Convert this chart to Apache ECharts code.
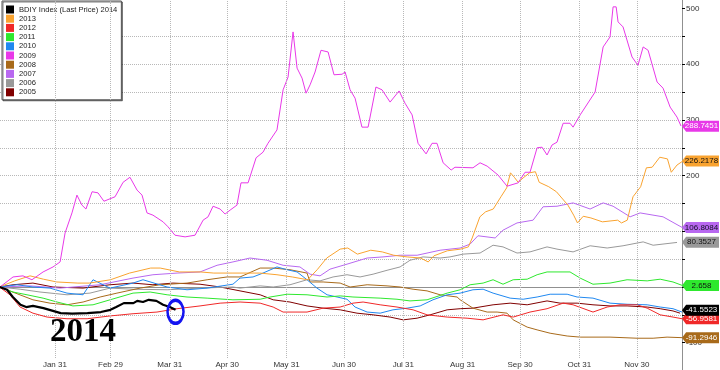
<!DOCTYPE html>
<html><head><meta charset="utf-8">
<script src="https://cdn.jsdelivr.net/npm/echarts@6/dist/echarts.min.js"></script>
<style>html,body{margin:0;padding:0;background:#fff}#c{width:720px;height:370px}</style>
</head><body><div id="c"></div>
<script>
// ---- axis ticks ----
const tickDays = [31, 60, 91, 121, 152, 182, 213, 244, 274, 305, 335];
const tickLabels = ['Jan 31', 'Feb 29', 'Mar 31', 'Apr 30', 'May 31', 'Jun 30', 'Jul 31', 'Aug 31', 'Sep 30', 'Oct 31', 'Nov 30'];
const yTicks = [-100, -50, 0, 50, 100, 150, 200, 250, 300, 350, 400, 450, 500];
const yLabels = [-100, 0, 100, 200, 300, 400, 500];

// ---- series names (legend order) ----
const seriesNames = ['BDIY Index (Last Price) 2014', '2013', '2012', '2011', '2010', '2009', '2008', '2007', '2006', '2005'];
const seriesColors = ['#000000', '#f9a330', '#f02828', '#2ee82e', '#2088f0', '#e838e8', '#a86a1a', '#b868f0', '#999999', '#800000'];

// ---- data: day of year, % change ----
const d2014 = [2, 6, 9, 13, 16, 19.5, 25, 34, 40, 48, 55, 60, 63, 67, 72, 74, 77, 80, 84, 87.5, 91, 94];
const v2014 = [0, -5, -18, -32, -36, -34, -38, -47, -48, -47, -45, -41, -36, -29, -29, -25, -27, -23, -25, -32, -36, -41];

const d2013 = [2, 10, 18, 25, 32, 43, 49, 60, 70, 81, 86, 96, 107, 114, 124, 131, 138, 147, 155, 163, 168, 173, 180, 184, 189, 196, 202, 208, 215, 222, 226, 229, 236, 243, 247, 249, 253, 256, 260, 264, 267, 269, 271, 273, 276, 279, 282, 284, 289, 293, 299, 302, 304, 307, 311, 317, 325, 327, 330, 333, 337, 340, 343, 347, 351, 353, 356, 359];
const v2013 = [0, 11, 20, 14, 9, 7, 7, 13, 25, 34, 34, 27, 27, 25, 25, 25, 25, 22, 18, 13, 31, 52, 68, 70, 59, 66, 63, 57, 54, 52, 45, 56, 65, 68, 72, 88, 126, 135, 140, 162, 178, 205, 197, 188, 197, 205, 207, 188, 180, 171, 147, 129, 115, 127, 124, 117, 120, 115, 120, 162, 180, 214, 215, 233, 230, 206, 219, 226];

const d2012 = [2, 7.5, 12.8, 19.5, 26.9, 37.3, 47.8, 59.8, 71.8, 84.3, 94.8, 106.8, 117.3, 127.7, 138.2, 145, 150.2, 162.7, 171.1, 180, 186.7, 192, 200.9, 209.7, 218.1, 225.4, 235.9, 246.3, 254.7, 265.1, 270.4, 279.2, 288.1, 296.5, 301.7, 312.1, 319.5, 326.2, 335.1, 340.4, 347.2, 353.9, 358.6];
const v2012 = [0, -14, -36, -47, -54, -57, -57, -52, -48, -45, -39, -34, -29, -27, -29, -36, -45, -45, -38, -36, -29, -27, -32, -36, -41, -50, -54, -56, -59, -50, -54, -45, -39, -29, -32, -45, -36, -32, -32, -38, -50, -54, -57];

const d2011 = [2, 9.1, 16.4, 24.8, 32.1, 40.4, 50.9, 59.8, 71.8, 80.7, 89.6, 100, 110.5, 124, 138.2, 143.4, 152.3, 162.7, 173.2, 180, 186.7, 200.9, 209.7, 216.5, 225.4, 235.9, 242.7, 247.9, 254.7, 259.9, 265.1, 270.4, 277.7, 282.9, 288.1, 300.1, 305.4, 312.1, 321, 329.9, 340.4, 347.2, 353.9, 358.6];
const v2011 = [0, -9, -14, -20, -27, -34, -32, -23, -11, -9, -14, -18, -20, -23, -22, -18, -13, -14, -18, -16, -18, -20, -22, -25, -23, -11, -5, 4, 7, 13, 5, 13, 14, 22, 27, 27, 16, 5, 7, 13, 11, 14, 9, 3];

const d2010 = [2, 11.2, 19.5, 28.4, 37.3, 45.7, 50.9, 59.8, 71.8, 77, 89.6, 100, 110.5, 124, 127.7, 134.5, 139.7, 147, 152.3, 157.5, 162.7, 167.9, 173.2, 178.4, 183.6, 187.8, 194.1, 200.9, 207.6, 215, 221.8, 228.5, 235.9, 242.7, 249.4, 254.7, 259.9, 268.8, 275.6, 282.9, 289.7, 298.6, 303.8, 312.1, 321, 329.9, 340.4, 347.2, 353.9, 358.6];
const v2010 = [0, 4, 0, -2, -11, -14, 13, -2, 7, 13, 0, -5, -2, 5, 16, 18, 25, 36, 31, 27, 13, -2, -14, -18, -22, -36, -45, -47, -41, -38, -34, -23, -14, -11, -5, -4, -11, -20, -22, -18, -13, -13, -18, -20, -29, -31, -32, -36, -39, -45];

const d2009 = [2.3, 9.1, 14.3, 19, 24.8, 30, 33.7, 36.3, 39.9, 42.5, 45.1, 47.2, 50.4, 53.5, 56.6, 62.4, 66.6, 70.2, 73.9, 76.5, 79.1, 82.2, 87.5, 90.1, 93.7, 99, 104.2, 108.4, 111, 113.6, 117.3, 119.9, 122.5, 126.1, 128.2, 131.9, 136.1, 139.7, 142.3, 147, 150.2, 152.8, 155.4, 157.5, 160.1, 162.2, 164.3, 166.9, 170, 173.7, 176.8, 181, 182.6, 185.2, 187.8, 191.4, 194.6, 198.7, 201.9, 206.1, 210.8, 213.9, 217.6, 220.7, 224.9, 228, 230.6, 233.8, 238, 240, 249.4, 253.1, 256.8, 262.5, 267.2, 273, 276.6, 279.2, 282.9, 285.5, 288.1, 290.7, 293.3, 296.5, 300.1, 301.7, 305.4, 313.2, 317.4, 321, 322.6, 324.2, 325.2, 327.8, 332.5, 335.6, 338.3, 340.9, 345.6, 348.7, 352.4, 356, 358.1];
const v2009 = [0, 18, 20, 13, 27, 36, 45, 97, 133, 165, 147, 140, 171, 169, 154, 162, 188, 197, 174, 165, 133, 129, 117, 108, 93, 90, 93, 120, 126, 145, 140, 131, 138, 147, 187, 187, 232, 242, 258, 282, 354, 377, 458, 393, 375, 348, 363, 386, 425, 422, 381, 382, 386, 354, 339, 287, 287, 359, 354, 332, 352, 330, 309, 258, 239, 258, 258, 223, 210, 215, 214, 223, 217, 201, 181, 187, 206, 206, 250, 251, 237, 255, 260, 294, 294, 287, 309, 350, 431, 449, 503, 503, 476, 467, 413, 398, 431, 425, 368, 357, 323, 305, 289];

const d2008 = [2, 19.5, 28.4, 37.3, 45.7, 54.6, 63.4, 75.5, 85.9, 100, 110.5, 120.9, 127.7, 138.2, 145, 153.8, 162.7, 164.3, 171.1, 180, 185.2, 194.1, 204.5, 211.3, 218.1, 225.4, 232.2, 241.1, 242.7, 249.4, 256.8, 262, 267.2, 270.4, 277.7, 282.9, 289.7, 298.6, 305.4, 321, 335.1, 343.5, 350.8, 358.6];
const v2008 = [0, -23, -29, -32, -27, -18, -11, -2, 4, 7, 13, 18, 18, 34, 34, 31, 25, 9, 9, 7, 0, 4, 2, 0, -4, -7, -14, -18, -23, -38, -45, -45, -47, -59, -72, -77, -83, -88, -90, -90, -92, -92, -90, -91];

const d2007 = [2, 18, 33.7, 54.6, 71.8, 82.2, 94.8, 106.8, 115.7, 124, 132.9, 141.8, 150.2, 159, 164.3, 169.5, 174.7, 183.6, 194.1, 202.4, 211.3, 220.2, 232.2, 242.7, 247.9, 252, 261, 265.1, 272.4, 280.8, 286, 293.3, 301.7, 310.6, 317.4, 322.6, 331.5, 336.7, 348.7, 353.4, 358.6];
const v2007 = [0, 2, -2, 4, 16, 22, 25, 27, 39, 45, 52, 48, 39, 36, 23, 20, 32, 41, 52, 54, 57, 57, 66, 70, 77, 92, 88, 102, 115, 120, 144, 145, 151, 140, 151, 145, 126, 133, 126, 117, 107];

const d2006 = [2, 12.8, 23.2, 37.3, 49.3, 59.8, 71.8, 89.6, 106.8, 124, 127.7, 138.2, 145, 153.8, 162.7, 169.5, 176.3, 183.6, 190.4, 197.2, 204.5, 211.3, 216.5, 223.3, 232.2, 237.4, 244.2, 253.1, 259.9, 265.1, 272.4, 279.2, 288.1, 293.3, 301.7, 310.6, 319.5, 327.8, 338.3, 343.5, 356];
const v2006 = [0, -4, -9, -14, -11, -2, -4, -5, -2, 0, -2, 2, 0, 4, 13, 11, 18, 22, 18, 23, 30, 36, 48, 54, 52, 54, 59, 61, 75, 72, 61, 63, 72, 68, 63, 74, 70, 74, 81, 75, 80];

const d2005 = [2, 9.1, 19.5, 30, 45.7, 59.8, 71.8, 82.2, 92.7, 106.8, 117.3, 127.7, 138.2, 145, 153.8, 162.7, 171.1, 180, 188.8, 197.2, 206.1, 212.9, 220.2, 227, 235.9, 242.7, 249.4, 259.9, 268.8, 277.7, 288.1, 294.9, 303.8, 312.1, 321, 329.9, 340.4, 347.2, 353.9, 357.6];
const v2005 = [0, 4, 7, 0, -2, 4, 7, 4, 7, 5, 0, -7, -14, -23, -27, -34, -38, -41, -47, -50, -54, -59, -56, -50, -41, -39, -38, -32, -29, -32, -25, -29, -29, -32, -34, -34, -36, -39, -43, -47];

// ---- last-price tags on the right axis ----
const tagValues = { 'BDIY Index (Last Price) 2014': -41.5523, '2013': 226.2178, '2012': -56.9581, '2011': 2.658, '2009': 288.7451, '2008': -91.2946, '2007': 106.8084, '2006': 80.3527 };
const tagText = { 'BDIY Index (Last Price) 2014': '-41.5523', '2013': '226.2178', '2012': '-56.9581', '2011': '2.658', '2009': '288.7451', '2008': '-91.2946', '2007': '106.8084', '2006': '80.3527' };
const tagTextColor = { 'BDIY Index (Last Price) 2014': '#fff', '2013': '#111', '2012': '#fff', '2011': '#111', '2009': '#fff', '2008': '#fff', '2007': '#112', '2006': '#111' };

const X_MIN = 2.3, X_MAX = 358.6;
const Y_MIN = -127.5, Y_MAX = 515.3;

const rawData = {
  'BDIY Index (Last Price) 2014': [d2014, v2014], '2013': [d2013, v2013], '2012': [d2012, v2012],
  '2011': [d2011, v2011], '2010': [d2010, v2010], '2009': [d2009, v2009], '2008': [d2008, v2008],
  '2007': [d2007, v2007], '2006': [d2006, v2006], '2005': [d2005, v2005]
};
const drawOrder = ['2005', '2006', '2007', '2008', '2010', '2011', '2012', '2013', '2009', 'BDIY Index (Last Price) 2014'];
const FONT = '"Liberation Sans", Arial, sans-serif';

const chart = echarts.init(document.getElementById('c'), null, { renderer: 'canvas' });

const series = [{
  name: '_grid', type: 'line', data: [], z: 1, silent: true,
  markLine: {
    silent: true, symbol: 'none', animation: false, label: { show: false },
    lineStyle: { type: 'dotted', color: '#b8b8b8', width: 1 },
    data: tickDays.map(d => ({ xAxis: d }))
  }
}];

drawOrder.forEach(name => {
  const idx = seriesNames.indexOf(name);
  const [ds, vs] = rawData[name];
  const isBlack = idx === 0;
  const s = {
    name, type: 'line', showSymbol: false, symbol: 'none', z: isBlack ? 5 : 3,
    data: ds.map((d, i) => [d, vs[i]]),
    lineStyle: { width: isBlack ? 2.2 : 1, color: seriesColors[idx] },
    itemStyle: { color: seriesColors[idx] },
    animation: false
  };
  const mp = [];
  if (tagValues[name] !== undefined) {
    mp.push({
      coord: [X_MAX, tagValues[name]],
      symbol: 'path://M0,5L4,0L36,0L36,10L4,10Z', symbolSize: [37, 11], symbolOffset: [18.5, 0],
      itemStyle: { color: seriesColors[idx] },
      label: { show: true, position: 'inside', formatter: tagText[name], color: tagTextColor[name], fontSize: 8, fontFamily: FONT, offset: [1, 0] }
    });
  }
  if (isBlack) {
    mp.push({
      coord: [ds[ds.length - 1], vs[vs.length - 1]],
      symbol: 'circle', symbolSize: [16, 23], symbolOffset: [0, 2],
      itemStyle: { color: 'rgba(0,0,0,0)', borderColor: '#1414f0', borderWidth: 3 },
      label: { show: false }
    });
  }
  if (mp.length) s.markPoint = { silent: true, animation: false, data: mp, z: 10 };
  series.push(s);
});

chart.setOption({
  animation: false,
  backgroundColor: '#ffffff',
  textStyle: { fontFamily: FONT },
  color: seriesColors,
  grid: { left: 0, right: 38, top: 0, bottom: 12, containLabel: false, outerBoundsMode: 'none' },
  legend: {
    data: seriesNames.map(n => ({ name: n, icon: 'rect' })),
    orient: 'vertical', left: 2, top: 1,
    backgroundColor: '#ffffff', borderColor: '#555', borderWidth: 1,
    padding: [4, 4, 3, 4], itemWidth: 8, itemHeight: 8, itemGap: 0.2,
    textStyle: { fontSize: 7.6, color: '#222', fontFamily: FONT, lineHeight: 9 },
    selectedMode: false,
    shadowColor: 'rgba(0,0,0,0.5)', shadowBlur: 0, shadowOffsetX: 1, shadowOffsetY: 1
  },
  xAxis: {
    type: 'value', min: X_MIN, max: X_MAX,
    axisLine: { show: true, lineStyle: { color: '#909090', width: 1 } },
    axisTick: { show: false },
    splitLine: { show: false },
    axisLabel: {
      customValues: tickDays, fontSize: 8, color: '#333', margin: 3, fontFamily: FONT,
      formatter: v => { const i = tickDays.indexOf(v); return i >= 0 ? tickLabels[i] : ''; }
    }
  },
  yAxis: {
    type: 'value', position: 'right', min: Y_MIN, max: Y_MAX, splitNumber: 6,
    axisLine: { show: true, lineStyle: { color: '#909090', width: 1 } },
    axisTick: { show: true, customValues: yTicks, length: 3, lineStyle: { color: '#000' } },
    axisLabel: { customValues: yLabels, fontSize: 8, color: '#333', margin: 4, fontFamily: FONT },
    splitLine: { show: true, showMinLine: false, showMaxLine: false, lineStyle: { type: 'dotted', color: '#b8b8b8', width: 1 } }
  },
  series
});

// axis line continues below the x axis to the bottom edge
const pTop = chart.convertToPixel({ gridIndex: 0 }, [X_MAX, Y_MIN]);
chart.setOption({
  graphic: [
    { type: 'line', silent: true, shape: { x1: Math.round(pTop[0]) + 0.5, y1: pTop[1], x2: Math.round(pTop[0]) + 0.5, y2: 370 }, style: { stroke: '#909090', lineWidth: 1 } },
    { type: 'text', left: 50, top: 316, silent: true, z: 20, style: { text: '2014', font: 'bold 33px "Liberation Serif", "Times New Roman", serif', fill: '#000' } }
  ]
});
</script>
</body></html>
